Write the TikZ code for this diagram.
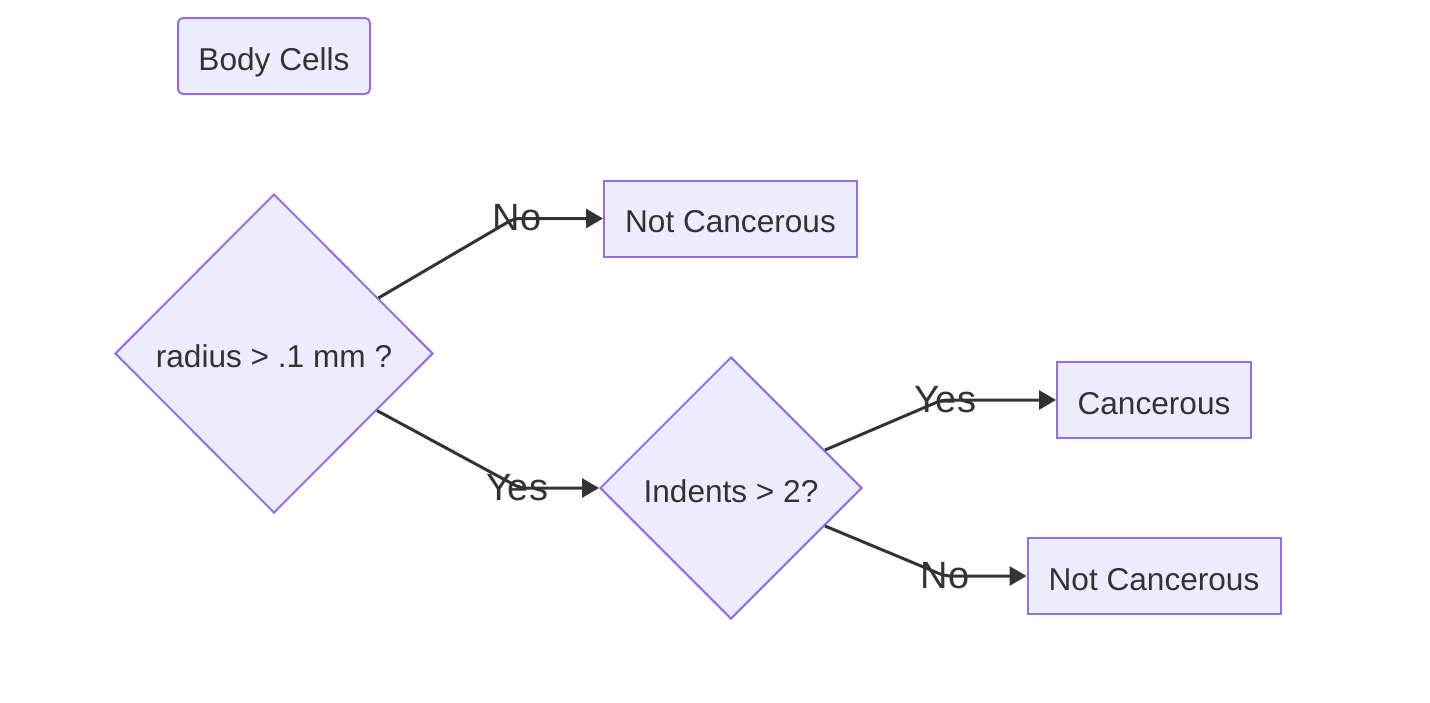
\documentclass[tikz,border=0pt]{standalone}
\usepackage{fontspec}
\setmainfont{Liberation Sans}
\usetikzlibrary{shapes.geometric,arrows.meta,positioning}
\definecolor{mmfill}{HTML}{ECECFF}
\definecolor{mmline}{HTML}{9370DB}
\definecolor{mmtext}{HTML}{333333}
\tikzset{
  basebox/.style={rectangle,draw=mmline,fill=mmfill,line width=2pt,text=mmtext,align=center,font=\fontsize{31.6}{38}\selectfont,inner sep=0pt,text height=28pt,text depth=0pt},
  startnode/.style={basebox,rounded corners=5pt,minimum width=192pt,minimum height=76pt},
  endnode/.style={basebox,minimum height=76pt},
  decnode/.style={basebox,diamond},
  arr/.style={-{Triangle[length=17pt,width=19pt]},line width=3pt,color=mmtext,rounded corners=6pt},
  edgelbl/.style={text=mmtext,font=\fontsize{38}{45}\selectfont,inner sep=0pt}
}
\begin{document}
\begin{tikzpicture}[x=1pt,y=-1pt]
  \useasboundingbox (0,0) rectangle (1430,702);

  %% Nodes
  \node[startnode] (body) at (274,56) {Body Cells};
  \node[decnode,minimum width=318pt,minimum height=319pt,below=98pt of body] (radius) {radius > .1 mm ?};
  \node[endnode,minimum width=253pt] (notc1) at (730.5,218.5) {Not Cancerous};
  \node[decnode,minimum width=262pt,minimum height=262pt] (indents) at (731,488) {Indents > 2?};
  \node[endnode,minimum width=194pt] (canc) at (1154,400) {Cancerous};
  \node[endnode,minimum width=253pt,below=98pt of canc] (notc2) {Not Cancerous};

  %% Bends
  \coordinate (bno1) at (514,218.5);
  \coordinate (byes1) at (520,488);
  \coordinate (byes2) at (942,400);
  \coordinate (bno2) at (945,576);

  %% Arrows
  \draw[arr] (radius.28) -- (bno1) -- (notc1.west);
  \draw[arr] (radius.-29) -- (byes1) -- (indents.west);
  \draw[arr] (indents.22) -- (byes2) -- (canc.west);
  \draw[arr] (indents.-22) -- (bno2) -- (notc2.west);

  %% Labels
  \node[edgelbl] (lno1) at (517,218) {No};
  \node[edgelbl] (lyes1) at (517,488) {Yes};
  \node[edgelbl] (lyes2) at (945,400) {Yes};
  \node[edgelbl] (lno2) at (945,576) {No};
\end{tikzpicture}
\end{document}
